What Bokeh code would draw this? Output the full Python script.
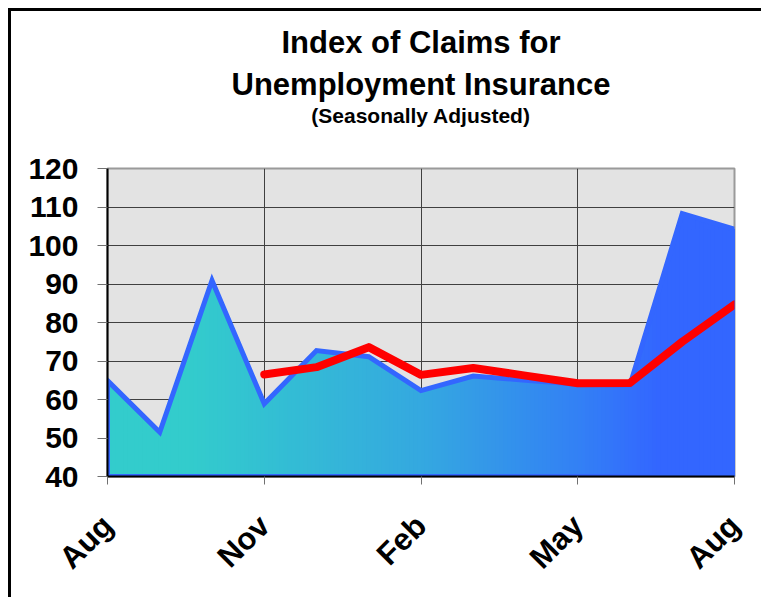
import numpy as np
from math import pi
from bokeh.plotting import figure
from bokeh.models import Title, FixedTicker, Range1d
from bokeh.embed import file_html
from bokeh.resources import INLINE

# ---- data ----
months = ["Aug", "Sep", "Oct", "Nov", "Dec", "Jan", "Feb", "Mar", "Apr", "May", "Jun", "Jul", "Aug"]
claims = [64.9, 51.5, 90.9, 58.9, 72.7, 71.1, 62.3, 66.1, 65.0, 64.0, 63.8, 108.3, 104.2]
trend = [None, None, None, 66.5, 68.4, 73.6, 66.4, 68.2, 66.2, 64.2, 64.3, 75.0, 84.7]
x_tick_pos = [0, 3, 6, 9, 12]
x_tick_labels = ["Aug", "Nov", "Feb", "May", "Aug"]
y_ticks = [40, 50, 60, 70, 80, 90, 100, 110, 120]

FONT = "Liberation Sans"

# gradient stops (month position -> colour), style only
grad_pos = [0.0, 1.5, 6.0, 9.0, 10.5, 12.0]
grad_rgb = [(51, 204, 204), (51, 204, 204), (52, 168, 224), (51, 128, 245), (51, 102, 255), (51, 102, 255)]

xi = np.arange(len(months), dtype=float)
yv = np.array(claims, dtype=float)
tv = np.array([np.nan if v is None else v for v in trend], dtype=float)
ymin, ymax = y_ticks[0], y_ticks[-1]

p = figure(width=753, height=589, title=None, toolbar_location=None,
           output_backend="svg",
           x_range=Range1d(xi[0], xi[-1]), y_range=Range1d(ymin, ymax),
           background_fill_color="#E3E3E3", border_fill_color="white",
           min_border_left=96, min_border_right=30, min_border_top=157,
           min_border_bottom=124)
p.styles = {"margin-left": "8px", "margin-top": "8px",
            "border-left": "3px solid black", "border-top": "3px solid black"}
p.outline_line_color = "#9A9A9A"
p.outline_line_width = 2

# titles (added from the plot outward)
p.add_layout(Title(text=" ", text_font=FONT, text_font_size="10px", standoff=29), "above")
p.add_layout(Title(text="(Seasonally Adjusted)", align="center", text_font=FONT,
                   text_color="black", text_font_size="21px", text_font_style="bold",
                   standoff=0), "above")
p.add_layout(Title(text="Unemployment Insurance", align="center", text_font=FONT,
                   text_color="black", text_font_size="31px", text_font_style="bold",
                   standoff=0), "above")
p.add_layout(Title(text="Index of Claims for", align="center", text_font=FONT,
                   text_color="black", text_font_size="31px", text_font_style="bold",
                   standoff=10), "above")

# grid
p.xgrid.ticker = FixedTicker(ticks=x_tick_pos)
p.ygrid.ticker = FixedTicker(ticks=y_ticks)
p.grid.grid_line_color = "#404040"
p.grid.grid_line_width = 1

# axes
p.xaxis.ticker = FixedTicker(ticks=x_tick_pos)
p.xaxis.major_label_overrides = {k: v for k, v in zip(x_tick_pos, x_tick_labels)}
p.xaxis.major_label_orientation = pi / 4
p.yaxis.ticker = FixedTicker(ticks=y_ticks)
for ax in (p.xaxis, p.yaxis):
    ax.axis_line_color = "black"
    ax.axis_line_width = 2
    ax.major_tick_line_color = "#707070"
    ax.major_tick_line_width = 1
    ax.major_tick_in = 0
    ax.minor_tick_line_color = None
    ax.major_label_text_font = FONT
    ax.major_label_text_font_style = "bold"
    ax.major_label_text_color = "black"
p.xaxis.major_tick_out = 8
p.yaxis.major_tick_out = 10
p.xaxis.major_label_text_font_size = "31px"
p.yaxis.major_label_text_font_size = "30px"
p.xaxis.major_label_standoff = 36
p.yaxis.major_label_standoff = 19

# gradient-filled area: overlapping slices, each from its start to the end
starts = np.linspace(xi[0], xi[-1], 161)[:-1]
xs_list, ys_list, cols = [], [], []
for s in starts:
    mask = xi > s
    xs_list.append([s] + list(xi[mask]) + [xi[-1], s])
    ys_list.append([float(np.interp(s, xi, yv))] + list(yv[mask]) + [ymin, ymin])
    r = int(round(np.interp(s, grad_pos, [c[0] for c in grad_rgb])))
    g = int(round(np.interp(s, grad_pos, [c[1] for c in grad_rgb])))
    b = int(round(np.interp(s, grad_pos, [c[2] for c in grad_rgb])))
    cols.append("#%02x%02x%02x" % (r, g, b))
p.patches(xs=xs_list, ys=ys_list, fill_color=cols, line_color=None)

# area outline
p.patch(x=list(xi) + [xi[-1], xi[0]], y=list(yv) + [ymin, ymin], fill_alpha=0,
        line_color="#3366FF", line_width=5, line_join="miter")

# trend line
p.line(x=xi, y=tv, line_color="#FF0000", line_width=8, line_join="round", line_cap="round")

open("out.html", "w").write(file_html(p, INLINE))
